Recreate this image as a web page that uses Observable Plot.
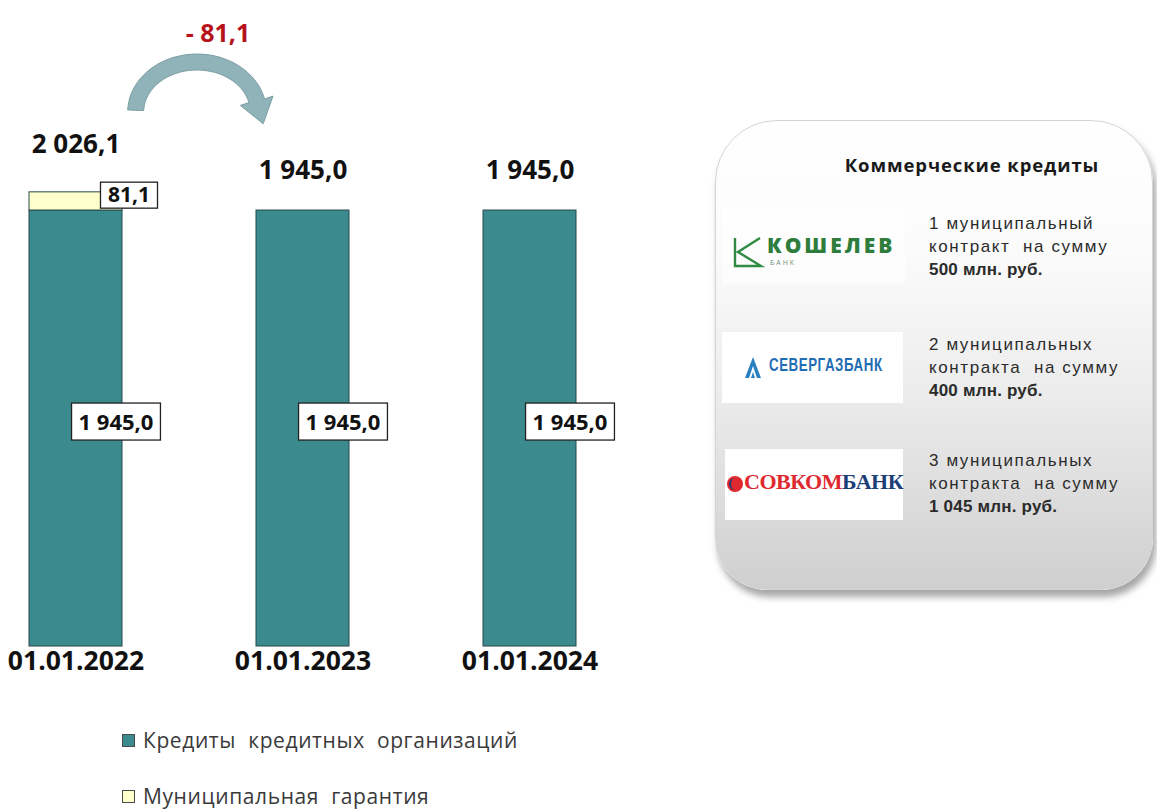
<!DOCTYPE html>
<html lang="ru">
<head>
<meta charset="utf-8">
<script src="https://cdn.jsdelivr.net/npm/d3@7"></script>
<script src="https://cdn.jsdelivr.net/npm/@observablehq/plot@0.6"></script>
<style>
  html, body { margin: 0; padding: 0; background: #fff; }
  body { width: 1157px; height: 812px; position: relative; overflow: hidden; }
  #chart { position: absolute; left: 0; top: 0; }
  #panel { position: absolute; left: 715px; top: 120px; width: 438px; height: 470px;
    border-radius: 62px 62px 52px 52px; box-sizing: border-box;
    background: linear-gradient(to bottom, #ffffff 0%, #fbfbfb 28%, #ececec 58%, #cfcfcf 100%);
    border: 1.5px solid #d4d4d4; box-shadow: 3px 7px 7px rgba(0,0,0,0.35); }
  .ptitle { position: absolute; left: 772px; width: 400px; top: 152px; text-align: center;
    font: bold 18.5px "Open Sans", sans-serif; color: #1a1a1a; letter-spacing: 0.9px; }
  .desc { position: absolute; left: 929px; font: 17px "Liberation Sans", Arial, sans-serif;
    color: #2b2b2b; line-height: 23px; white-space: pre; letter-spacing: 1.6px; }
  .desc b { font-weight: bold; letter-spacing: 0.2px; }
  .logo { position: absolute; background: #fff; }
  .legend-item { position: absolute; left: 122px; display: flex; align-items: center;
    font: 21px "Open Sans", sans-serif; color: #3a3a3a; white-space: pre; letter-spacing: 0.6px; }
  .legend-item .sw { width: 11px; height: 11px; border: 1px solid #4a4a4a; margin-right: 8px; }
</style>
</head>
<body>
<div id="chart"></div>
<div id="panel"></div>
<div id="panelContent"></div>
<div id="legend"></div>
<script>
// ---------- data ----------
const dates = ["01.01.2022", "01.01.2023", "01.01.2024"];
const bankCredits = [1945.0, 1945.0, 1945.0];
const guarantee = [81.1, 0, 0];
const seriesNames = ["Кредиты кредитных организаций", "Муниципальная гарантия"];
const seriesColors = ["#3b8a8e", "#ffffcc"];

const panelTitle = "Коммерческие кредиты";
const bankNames = ["КОШЕЛЕВ", "СЕВЕРГАЗБАНК", "СОВКОМБАНК"];
const contractCounts = ["1", "2", "3"];
const contractWord1 = ["муниципальный", "муниципальных", "муниципальных"];
const contractWord2 = ["контракт", "контракта", "контракта"];
const contractSums = ["500", "400", "1 045"];

// ---------- derived ----------
const fmt = d3.formatLocale({decimal: ",", thousands: " ", grouping: [3], currency: ["", ""]}).format(",.1f");
const rows = [];
dates.forEach((d, i) => {
  rows.push({date: d, series: seriesNames[0], value: bankCredits[i], base: 0});
  rows.push({date: d, series: seriesNames[1], value: guarantee[i], base: bankCredits[i]});
});
const totals = dates.map((d, i) => ({date: d, total: bankCredits[i] + guarantee[i]}));
const change = [{date: dates[0], label: "- " + fmt(totals[0].total - totals[1].total)}];

function curvedArrow(index, scales) {
  const x = scales && scales.x;
  let a = 74.5, b = 302.5;
  if (x) { const bw = x.bandwidth ? x.bandwidth() : 0; a = x(dates[0]) + bw / 2; b = x(dates[1]) + bw / 2; }
  const s = b - a;
  const cx = a + 0.535 * s, rx = 0.27 * s, ry = 50, cy = 112, w = 16;
  const th0 = 178, th1 = 13, hw = 17, hl = 24;
  const rad = d => d * Math.PI / 180;
  const pt = (r1, r2, t) => [cx + r1 * Math.cos(t), cy - r2 * Math.sin(t)];
  const outer = [], inner = [];
  for (let k = 0; k <= 40; k++) {
    const t = rad(th0 + (th1 - th0) * k / 40);
    outer.push(pt(rx + w / 2, ry + w / 2, t));
    inner.push(pt(rx - w / 2, ry - w / 2, t));
  }
  const te = rad(th1), P = pt(rx, ry, te);
  let T = [rx * Math.sin(te), ry * Math.cos(te)];
  const L = Math.hypot(T[0], T[1]); T = [T[0] / L, T[1] / L];
  const N = [T[1], -T[0]];
  const tip = [P[0] + T[0] * hl, P[1] + T[1] * hl];
  const w1 = [P[0] + N[0] * hw, P[1] + N[1] * hw], w2 = [P[0] - N[0] * hw, P[1] - N[1] * hw];
  const pts = [...outer, w1, tip, w2, ...inner.reverse()];
  return d3.create("svg:path")
    .attr("d", "M" + pts.map(p => p[0].toFixed(1) + "," + p[1].toFixed(1)).join("L") + "Z")
    .attr("fill", "#8fb3b8").attr("stroke", "#7c9fa4").attr("stroke-width", 1).node();
}

const numFont = "Open Sans";
const plot = Plot.plot({
  width: 700,
  height: 700,
  marginTop: 0,
  marginBottom: 54,
  marginLeft: 0,
  marginRight: 0,
  style: {fontFamily: numFont, background: "transparent"},
  x: {domain: dates, range: [0, 605], paddingInner: 0.592, paddingOuter: 0.1228, label: null, axis: null},
  y: {domain: [0, 2882], axis: null},
  color: {domain: seriesNames, range: seriesColors},
  marks: [
    curvedArrow,
    Plot.barY(rows, {x: "date", y1: "base", y2: d => d.base + d.value, fill: "series",
      stroke: "#27494b", strokeWidth: 1, filter: d => d.value > 0}),
    Plot.axisX({tickSize: 0, tickPadding: 5, fontSize: 26.5, fontWeight: "bold", fill: "#111", label: null}),
    Plot.text(rows, {filter: d => d.series === seriesNames[0], x: "date", y: d => d.base + d.value / 2,
      text: d => fmt(d.value), dx: 40, dy: -6, fontSize: 22, fontWeight: "bold", fill: "#111",
      className: "boxbig"}),
    Plot.text(rows, {filter: d => d.series === seriesNames[1] && d.value > 0, x: "date",
      y: d => d.base + d.value / 2, text: d => fmt(d.value), dx: 53, dy: -6, fontSize: 21,
      fontWeight: "bold", fill: "#111", className: "boxsmall"}),
    Plot.text(totals.slice(0, 1), {x: "date", y: "total", text: d => fmt(d.total), dy: -48,
      fontSize: 26, fontWeight: "bold", fill: "#111"}),
    Plot.text(totals.slice(1), {x: "date", y: "total", text: d => fmt(d.total), dy: -40,
      fontSize: 26, fontWeight: "bold", fill: "#111"}),
    Plot.text(change, {x: "date", text: "label", frameAnchor: "top", dx: 142, dy: 24,
      fontSize: 25, fontWeight: "bold", fill: "#b5121b"})
  ]
});
document.getElementById("chart").appendChild(plot);

function boxify(cls, padX, h) {
  plot.querySelectorAll("g." + cls + " text").forEach(t => {
    const bb = t.getBBox();
    const cyy = bb.y + bb.height * 0.5 + 1;
    const r = document.createElementNS("http://www.w3.org/2000/svg", "rect");
    r.setAttribute("x", bb.x - padX);
    r.setAttribute("y", cyy - h / 2);
    r.setAttribute("width", bb.width + 2 * padX);
    r.setAttribute("height", h);
    r.setAttribute("fill", "#fff");
    r.setAttribute("stroke", "#222");
    r.setAttribute("stroke-width", 1.3);
    if (t.getAttribute("transform")) r.setAttribute("transform", t.getAttribute("transform"));
    t.parentNode.insertBefore(r, t);
  });
}
boxify("boxbig", 7, 37);
boxify("boxsmall", 7.5, 26);

// ---------- panel ----------
const pc = d3.select("#panelContent");
pc.append("div").attr("class", "ptitle").text(panelTitle);
const descTops = [212, 333, 449];
descTops.forEach((top, i) => {
  const d = pc.append("div").attr("class", "desc").style("top", top + "px");
  d.append("span").text(contractCounts[i] + " " + contractWord1[i]);
  d.append("br");
  d.append("span").text(contractWord2[i] + "  на сумму");
  d.append("br");
  d.append("b").text(contractSums[i] + " млн. руб.");
});

// logo 1
const l1 = pc.append("div").attr("class", "logo")
  .style("left", "722px").style("top", "208px").style("width", "183px").style("height", "76px")
  .style("background", "rgba(255,255,255,0.55)");
l1.append("svg").attr("width", 34).attr("height", 34)
  .style("position", "absolute").style("left", "9px").style("top", "27px")
  .append("path").attr("d", "M29,3 L7,17 L30,31 L4,31 L4,3").attr("fill", "none")
  .attr("stroke", "#2f8a42").attr("stroke-width", 2.4).attr("stroke-linejoin", "miter");
l1.append("div").text(bankNames[0])
  .style("position", "absolute").style("left", "45px").style("top", "23px")
  .style("font", "800 21px 'Open Sans', sans-serif").style("letter-spacing", "3px").style("color", "#2e7d3c");
l1.append("div").text("БАНК")
  .style("position", "absolute").style("left", "48px").style("top", "50px")
  .style("font", "7px 'Open Sans', sans-serif").style("letter-spacing", "2px").style("color", "#6e8f75");

// logo 2
const l2 = pc.append("div").attr("class", "logo")
  .style("left", "722px").style("top", "332px").style("width", "181px").style("height", "71px");
const s2 = l2.append("svg").attr("width", 20).attr("height", 26)
  .style("position", "absolute").style("left", "21px").style("top", "22px");
s2.append("path").attr("d", "M2,24 L10,3 L18,24 L14,24 L10,12 L6,24 Z").attr("fill", "#2a7fc0");
s2.append("path").attr("d", "M8,24 L10,18 L12,24 Z").attr("fill", "#2a7fc0");
l2.append("div").text(bankNames[1])
  .style("position", "absolute").style("left", "47px").style("top", "22px")
  .style("font", "bold 19px 'Liberation Sans', sans-serif")
  .style("letter-spacing", "0.8px").style("color", "#1f6db3")
  .style("transform", "scaleX(0.7)").style("transform-origin", "0 0");

// logo 3
const l3 = pc.append("div").attr("class", "logo")
  .style("left", "725px").style("top", "449px").style("width", "178px").style("height", "71px");
const s3 = l3.append("svg").attr("width", 18).attr("height", 18)
  .style("position", "absolute").style("left", "1px").style("top", "26px");
s3.append("circle").attr("cx", 9).attr("cy", 9).attr("r", 8).attr("fill", "#e0282f");
s3.append("path").attr("d", "M9,3 A6,6 0 0,0 9,15 A4,6 0 0,1 9,3 Z").attr("fill", "#1d3f78");
const t3 = l3.append("div")
  .style("position", "absolute").style("left", "19px").style("top", "20px")
  .style("font", "bold 22px 'Liberation Serif', serif").style("letter-spacing", "-0.5px");
t3.append("span").text(bankNames[2].slice(0, 6)).style("color", "#e0282f");
t3.append("span").text(bankNames[2].slice(6)).style("color", "#1d3f78");

// ---------- legend ----------
const lg = d3.select("#legend");
const legendTops = [726, 782];
seriesNames.forEach((n, i) => {
  const it = lg.append("div").attr("class", "legend-item").style("top", legendTops[i] + "px");
  it.append("div").attr("class", "sw").style("background", seriesColors[i]);
  it.append("span").text(n.split(" ").join("  "));
});
</script>
</body>
</html>
